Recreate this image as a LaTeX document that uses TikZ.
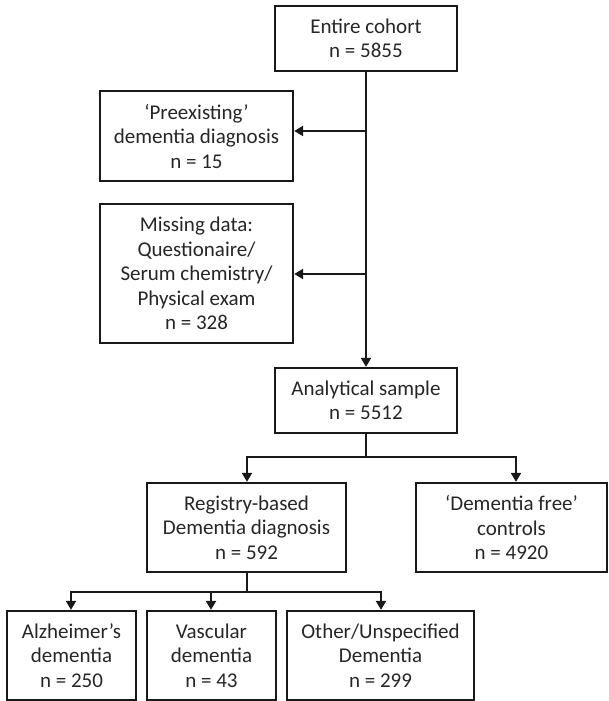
\documentclass[tikz,border=0pt]{standalone}
\usepackage{fontspec}
\setmainfont{Carlito}
\usetikzlibrary{arrows.meta}
\begin{document}
\begin{tikzpicture}[x=1pt,y=-1pt,
  box/.style={draw=black!90,line width=2.3pt,align=center,inner sep=0pt,
    font=\fontsize{21}{24.5}\selectfont,text=black!85},
  conn/.style={draw=black!90,line width=2pt},
  arr/.style={conn,-{Triangle[length=9pt,width=10pt]}}]
\useasboundingbox (0,0) rectangle (608,701);
\node[box,minimum width=182pt,minimum height=65pt] (top) at (366,38.5) {Entire cohort\\n = 5855};
\node[box,minimum width=193pt,minimum height=90pt] (pre) at (196.5,136) {‘Preexisting’\\dementia diagnosis\\n = 15};
\node[box,minimum width=193pt,minimum height=139pt] (miss) at (196.5,273.5) {Missing data:\\Questionaire/\\Serum chemistry/\\Physical exam\\n = 328};
\node[box,minimum width=182pt,minimum height=65pt] (ana) at (366,400.5) {Analytical sample\\n = 5512};
\node[box,minimum width=199pt,minimum height=89pt] (reg) at (246.5,527.5) {Registry-based\\Dementia diagnosis\\n = 592};
\node[box,minimum width=191pt,minimum height=89pt] (free) at (511.5,527.5) {‘Dementia free’\\controls\\n = 4920};
\node[box,minimum width=129pt,minimum height=89pt] (alz) at (71.5,655.5) {Alzheimer’s\\dementia\\n = 250};
\node[box,minimum width=129pt,minimum height=89pt] (vas) at (211.5,655.5) {Vascular\\dementia\\n = 43};
\node[box,minimum width=187pt,minimum height=89pt] (oth) at (380.5,655.5) {Other/Unspecified\\Dementia\\n = 299};
% trunk
\draw[arr] (top.south) -- (ana.north);
\coordinate (j1) at (366,131);
\coordinate (j2) at (366,274);
\draw[arr] (j1) -- (j1 -| pre.east);
\draw[arr] (j2) -- (j2 -| miss.east);
% split from analytical sample
\coordinate (s) at (366,457);
\coordinate (sl) at (247,457);
\coordinate (sr) at (516,457);
\draw[conn] (ana.south) -- (s);
\draw[arr] (s) -- (sl) -- (sl |- reg.north);
\draw[arr] (s) -- (sr) -- (sr |- free.north);
% split from registry
\coordinate (b) at (247,592);
\coordinate (b1) at (71,592);
\coordinate (b2) at (211,592);
\coordinate (b3) at (381,592);
\draw[conn] (reg.south -| b) -- (b);
\draw[arr] (b) -- (b1) -- (b1 |- alz.north);
\draw[arr] (b2) -- (b2 |- vas.north);
\draw[arr] (b) -- (b3) -- (b3 |- oth.north);
\end{tikzpicture}
\end{document}
